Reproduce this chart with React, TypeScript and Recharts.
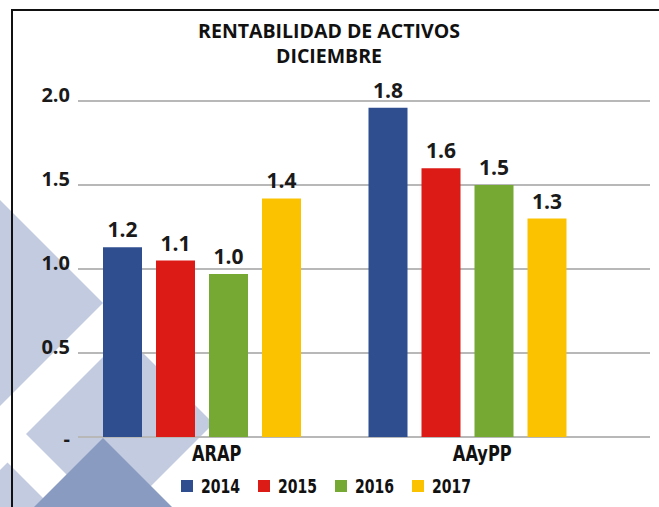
import React from 'react';
import { BarChart, Bar, XAxis, YAxis, CartesianGrid, LabelList, Legend } from 'recharts';

const categories = ['ARAP', 'AAyPP'];
const years = ['2014', '2015', '2016', '2017'];
const values2014 = [1.13, 1.96];
const values2015 = [1.05, 1.6];
const values2016 = [0.97, 1.5];
const values2017 = [1.42, 1.3];
const labels2014 = ['1.2', '1.8'];
const labels2015 = ['1.1', '1.6'];
const labels2016 = ['1.0', '1.5'];
const labels2017 = ['1.4', '1.3'];
const yTicks = [0, 0.5, 1, 1.5, 2];
const yTickLabels = ['-', '0.5', '1.0', '1.5', '2.0'];
const colors = ['#2f4e90', '#dc1b17', '#76a834', '#fbc200'];
const titleLines = ['RENTABILIDAD DE ACTIVOS', 'DICIEMBRE'];

const valueSets = [values2014, values2015, values2016, values2017];
const labelSets = [labels2014, labels2015, labels2016, labels2017];

const data = categories.map((name, i) => {
  const row: any = { name };
  years.forEach((yr, k) => {
    row['v' + yr] = valueSets[k][i];
    row['l' + yr] = labelSets[k][i];
  });
  return row;
});

const NARROW = '"Liberation Sans Narrow", "DejaVu Sans Condensed", "Arial Narrow", sans-serif';
const SANS = '"Open Sans", "Noto Sans", sans-serif';
const SQUEEZE = 0.82;

const YTick = (props: any) => {
  const { x, y, payload } = props;
  const idx = yTicks.indexOf(payload.value);
  const isZero = payload.value === 0;
  return (
    <text x={x} y={y + (isZero ? 9 : 1)} textAnchor="end" fontFamily={SANS} fontWeight={700} fontSize={20} fill="#1a1a1a">
      {idx >= 0 ? yTickLabels[idx] : payload.value}
    </text>
  );
};

const XTick = (props: any) => {
  const { x, y, payload } = props;
  const cx = x + 15;
  return (
    <g transform={`translate(${cx},${y + 24}) scale(${SQUEEZE},1)`}>
      <text x={0} y={0} textAnchor="middle" fontFamily={NARROW} fontWeight="bold" fontSize={22} fill="#111">
        {payload.value}
      </text>
    </g>
  );
};

const BarLabel = (props: any) => {
  const { x, y, width, value } = props;
  return (
    <text x={Number(x) + Number(width) / 2} y={Number(y) - 10} textAnchor="middle" fontFamily={SANS} fontWeight={700} fontSize={21} fill="#1a1a1a">
      {value}
    </text>
  );
};

const LegendContent = (props: any) => {
  const { payload } = props;
  return (
    <div style={{ display: 'flex', alignItems: 'center', height: 22, lineHeight: '22px' }}>
      {(payload || []).map((entry: any, i: number) => (
        <div key={i} style={{ display: 'flex', alignItems: 'center', width: 77, flex: '0 0 77px' }}>
          <span style={{ display: 'inline-block', width: 12, height: 12, background: entry.color, marginRight: 8 }} />
          <span
            style={{
              display: 'inline-block',
              fontFamily: NARROW,
              fontWeight: 'bold',
              fontSize: 19,
              color: '#111',
              transform: `scaleX(${SQUEEZE})`,
              transformOrigin: 'left center',
            }}
          >
            {entry.value}
          </span>
        </div>
      ))}
    </div>
  );
};

const LIGHT = '#c3cbe0';
const DARK = '#8a9bc2';

export default function App() {
  return (
    <div style={{ position: 'absolute', left: 0, top: 0, width: 659, height: 507, background: '#fff', overflow: 'hidden' }}>
      <svg width={659} height={507} style={{ position: 'absolute', left: 0, top: 0 }}>
        <polygon points="0,200 103,303 0,406" fill={LIGHT} />
        <polygon points="26,434 125,335 213.5,423.5 114.5,522.5" fill={LIGHT} />
        <polygon points="-10,480 7.5,462.5 60,515 -10,515" fill={LIGHT} />
        <polygon points="103,438 183,518 103,598 23,518" fill={DARK} />
        <line x1={12} y1={10} x2={659} y2={10} stroke="#111" strokeWidth={2} />
        <line x1={12} y1={9} x2={12} y2={507} stroke="#111" strokeWidth={2} />
        {titleLines.map((t, i) => (
          <text key={i} x={329} y={38 + i * 25} textAnchor="middle" fontFamily={SANS} fontWeight={700} fontSize={19.5} fill="#111">
            {t}
          </text>
        ))}
      </svg>
      <div style={{ position: 'absolute', left: 0, top: 0 }}>
        <BarChart
          width={659}
          height={507}
          data={data}
          margin={{ top: 101, right: 9, bottom: 30, left: 18 }}
          barSize={39}
          barGap={14}
        >
          <CartesianGrid vertical={false} stroke="#b8b8b8" strokeWidth={2} />
          <XAxis
            dataKey="name"
            axisLine={false}
            tickLine={false}
            tickSize={0}
            tickMargin={0}
            height={40}
            padding={{ left: -9, right: 50 }}
            tick={<XTick />}
            interval={0}
          />
          <YAxis
            domain={[0, 2]}
            ticks={yTicks}
            axisLine={false}
            tickLine={false}
            tickSize={0}
            tickMargin={8}
            width={60}
            tick={<YTick />}
            interval={0}
          />
          <Legend
            layout="horizontal"
            verticalAlign="middle"
            align="center"
            content={<LegendContent />}
            wrapperStyle={{ left: 181, top: 475, width: 400, height: 22 }}
          />
          {years.map((yr, k) => (
            <Bar key={yr} dataKey={'v' + yr} name={yr} fill={colors[k]} isAnimationActive={false}>
              <LabelList dataKey={'l' + yr} content={<BarLabel />} />
            </Bar>
          ))}
        </BarChart>
      </div>
    </div>
  );
}
